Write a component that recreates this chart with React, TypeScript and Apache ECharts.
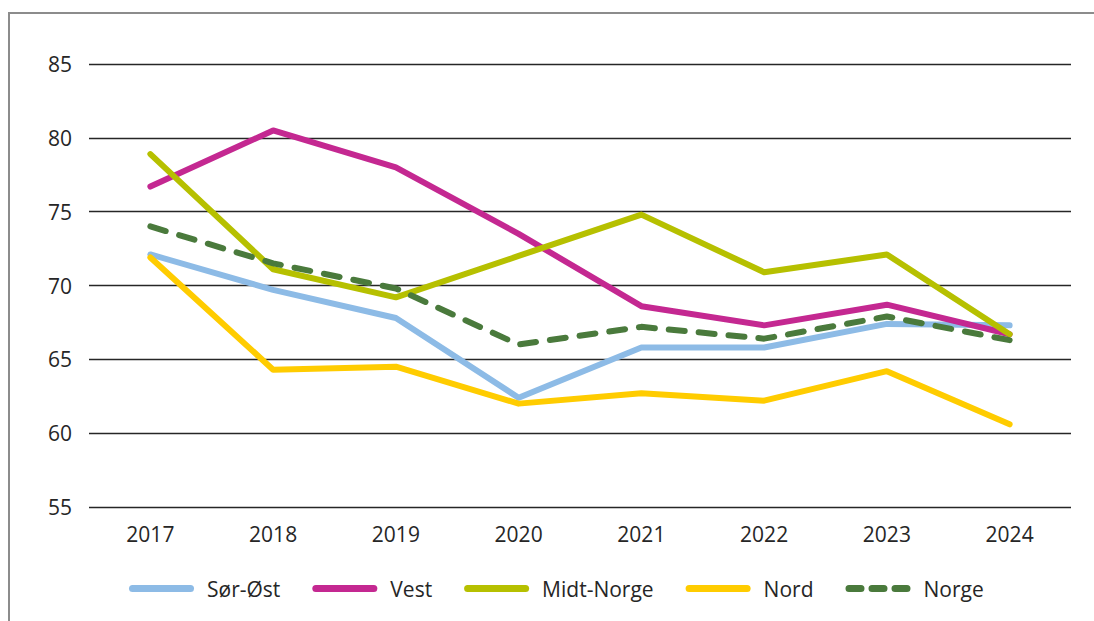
import React, { useEffect, useRef } from "react";
import * as echarts from "echarts";

const years = ["2017", "2018", "2019", "2020", "2021", "2022", "2023", "2024"];
const sorOst = [72.1, 69.7, 67.8, 62.4, 65.8, 65.8, 67.4, 67.3];
const vest = [76.7, 80.5, 78.0, 73.5, 68.6, 67.3, 68.7, 66.7];
const midtNorge = [78.9, 71.1, 69.2, 72.0, 74.8, 70.9, 72.1, 66.7];
const nord = [71.9, 64.3, 64.5, 62.0, 62.7, 62.2, 64.2, 60.6];
const norge = [74.0, 71.5, 69.8, 66.0, 67.2, 66.4, 67.9, 66.3];

const FONT = "'Open Sans', 'Noto Sans', sans-serif";

const SOLID_ICON =
  "path://M3.5,0H61.5A3.5,3.5,0,0,1,61.5,7H3.5A3.5,3.5,0,0,1,3.5,0Z";
const DASH_ICON =
  "path://M3.5,0H15.5A3.5,3.5,0,0,1,15.5,7H3.5A3.5,3.5,0,0,1,3.5,0Z" +
  "M26.5,0H38.5A3.5,3.5,0,0,1,38.5,7H26.5A3.5,3.5,0,0,1,26.5,0Z" +
  "M49.5,0H61.5A3.5,3.5,0,0,1,61.5,7H49.5A3.5,3.5,0,0,1,49.5,0Z";

export default function App() {
  const ref = useRef<HTMLDivElement>(null);
  useEffect(() => {
    if (!ref.current) return;
    const chart = echarts.init(ref.current, undefined, { renderer: "svg" });
    const mk = (name: string, data: number[], color: string, dashed = false) => ({
      name,
      type: "line",
      data,
      symbol: "none",
      lineStyle: {
        color,
        width: 6,
        cap: "round",
        join: "round",
        type: dashed ? [16, 14] : "solid",
      },
      itemStyle: { color },
    });
    chart.setOption({
      animation: false,
      backgroundColor: "#fff",
      textStyle: { fontFamily: FONT },
      grid: { left: 89, right: 23, top: 64, bottom: 114 },
      xAxis: {
        type: "category",
        data: years,
        boundaryGap: true,
        axisLine: { show: false },
        axisTick: { show: false },
        axisLabel: { color: "#262626", fontSize: 21, fontFamily: FONT, margin: 16 },
      },
      yAxis: {
        type: "value",
        min: 55,
        max: 85,
        interval: 5,
        axisLine: { show: false },
        axisTick: { show: false },
        axisLabel: { color: "#262626", fontSize: 21, fontFamily: FONT, margin: 17 },
        splitLine: { lineStyle: { color: "#262626", width: 1.3 } },
      },
      legend: {
        left: 124,
        top: 573,
        itemWidth: 65,
        itemHeight: 7,
        itemGap: 32,
        textStyle: { color: "#262626", fontSize: 21, fontFamily: FONT, padding: [0, 0, 0, 8] },
        data: [
          { name: "Sør-Øst", icon: SOLID_ICON },
          { name: "Vest", icon: SOLID_ICON },
          { name: "Midt-Norge", icon: SOLID_ICON },
          { name: "Nord", icon: SOLID_ICON },
          { name: "Norge", icon: DASH_ICON },
        ],
      },
      graphic: [
        { type: "line", shape: { x1: 9, y1: 13, x2: 9, y2: 621 }, style: { stroke: "#8c8c8c", lineWidth: 2 } },
        { type: "line", shape: { x1: 8, y1: 13, x2: 1094, y2: 13 }, style: { stroke: "#8c8c8c", lineWidth: 2 } },
      ],
      series: [
        mk("Sør-Øst", sorOst, "#8dbbe6"),
        mk("Vest", vest, "#c42891"),
        mk("Midt-Norge", midtNorge, "#b6c000"),
        mk("Nord", nord, "#ffcc00"),
        mk("Norge", norge, "#4a7a3c", true),
      ],
    });
    return () => chart.dispose();
  }, []);
  return (
    <div
      ref={ref}
      style={{ position: "fixed", left: 0, top: 0, width: 1094, height: 621 }}
    />
  );
}
